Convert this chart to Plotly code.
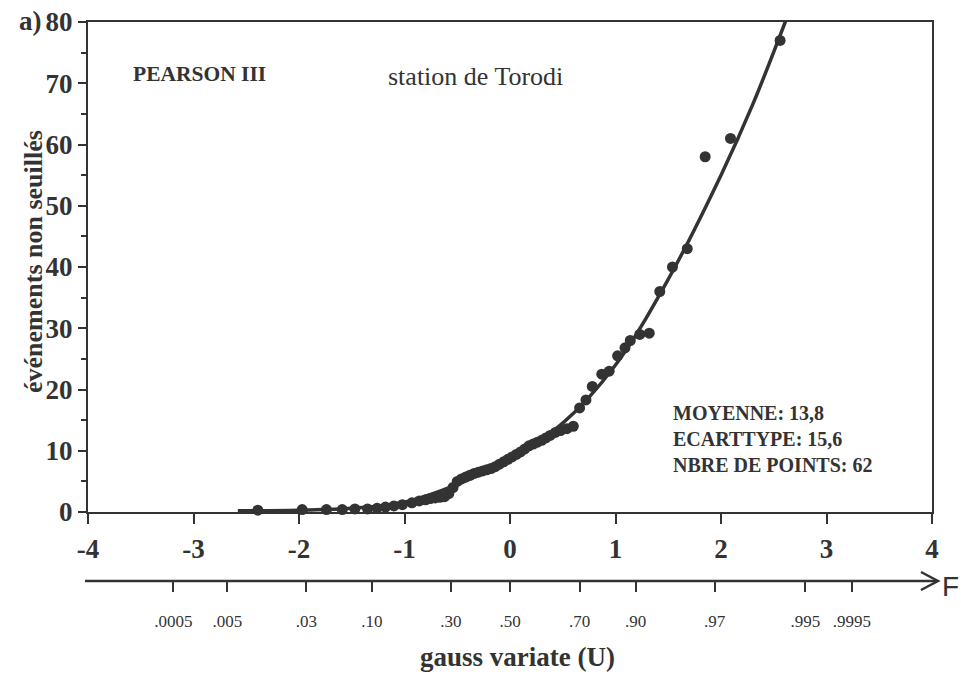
import plotly.graph_objects as go

# ---- data ----
obs_u = [-2.39, -1.97, -1.74, -1.59, -1.47, -1.35, -1.26, -1.18, -1.10, -1.02, -0.93, -0.86,
         -0.80, -0.755, -0.71, -0.665, -0.62, -0.58, -0.54, -0.50, -0.46, -0.42, -0.38, -0.34,
         -0.30, -0.26, -0.22, -0.18, -0.14, -0.10, -0.06, -0.02, 0.02, 0.06, 0.10, 0.14,
         0.18, 0.22, 0.26, 0.30, 0.34, 0.38, 0.43, 0.48, 0.54, 0.60,
         0.66, 0.72, 0.78, 0.87, 0.94, 1.02, 1.09, 1.14, 1.23, 1.32, 1.42, 1.54, 1.68,
         1.85, 2.09, 2.56]
obs_val = [0.3, 0.4, 0.4, 0.4, 0.5, 0.5, 0.6, 0.8, 1.0, 1.2, 1.5, 1.8,
           2.0, 2.2, 2.3, 2.4, 2.5, 3.0, 4.0, 5.0, 5.4, 5.7, 6.0, 6.3,
           6.5, 6.7, 6.9, 7.1, 7.4, 7.8, 8.2, 8.6, 9.0, 9.4, 9.8, 10.3,
           10.8, 11.1, 11.4, 11.7, 12.1, 12.5, 13.0, 13.3, 13.6, 14.0,
           17.0, 18.3, 20.5, 22.5, 23.0, 25.5, 26.8, 28.0, 29.0, 29.2, 36.0, 40.0, 43.0,
           58.0, 61.0, 77.0]

fit_u = [-2.58, -2.0, -1.5, -1.0, -0.5, 0.0, 0.5, 1.0, 1.5, 2.0, 2.3, 2.62]
fit_val = [0.2, 0.3, 0.6, 1.6, 4.5, 8.7, 14.5, 24.0, 38.0, 55.0, 66.5, 80.5]

u_ticks = [-4, -3, -2, -1, 0, 1, 2, 3, 4]
y_ticks = [0, 10, 20, 30, 40, 50, 60, 70, 80]

f_pos = [-3.19, -2.68, -1.93, -1.31, -0.56, 0.0, 0.66, 1.19, 1.94, 2.80, 3.24]
f_labels = [".0005", ".005", ".03", ".10", ".30", ".50", ".70", ".90", ".97", ".995", ".9995"]

stats_lines = ["MOYENNE: 13,8", "ECARTTYPE: 15,6", "NBRE DE POINTS: 62"]

# ---- figure ----
W, H = 961, 677
INK = "#333333"
SERIF = "Liberation Serif"

x0px, x1px = 88, 932
ytop, ybot = 22, 512
xdom = [x0px / W, x1px / W]
ydom = [1 - ybot / H, 1 - ytop / H]

def px(xp):
    return xp / W

def py(yp):
    return 1 - yp / H

fig = go.Figure()
fig.add_trace(go.Scatter(x=fit_u, y=fit_val, mode="lines",
                         line=dict(color=INK, width=3.5, shape="spline"),
                         hoverinfo="skip", showlegend=False))
fig.add_trace(go.Scatter(x=obs_u, y=obs_val, mode="markers",
                         marker=dict(color=INK, size=11),
                         showlegend=False, cliponaxis=False))
# invisible trace to instantiate the probability axis
fig.add_trace(go.Scatter(x=[0], y=[0], xaxis="x2", yaxis="y", mode="markers",
                         marker=dict(opacity=0), hoverinfo="skip", showlegend=False))

fig.update_layout(
    width=W, height=H,
    margin=dict(l=0, r=0, t=0, b=0, autoexpand=False),
    paper_bgcolor="white", plot_bgcolor="white",
    font=dict(family=SERIF, color=INK),
    xaxis=dict(domain=xdom, range=[-4, 4], tickvals=u_ticks,
               ticktext=[str(v) for v in u_ticks], automargin=False,
               showline=True, linecolor=INK, linewidth=2, mirror=True,
               ticks="outside", ticklen=10, tickwidth=2, tickcolor=INK,
               ticklabelstandoff=2,
               tickfont=dict(family=SERIF, size=27, weight="bold", color=INK),
               showgrid=False, zeroline=False),
    xaxis2=dict(domain=xdom, range=[-4, 4], overlaying="x", anchor="free",
                position=py(581), side="bottom", automargin=False,
                tickvals=f_pos, ticktext=f_labels,
                showline=False, ticks="outside", ticklen=10, tickwidth=2,
                tickcolor=INK, ticklabelstandoff=15,
                tickfont=dict(family=SERIF, size=17, color=INK),
                showgrid=False, zeroline=False),
    yaxis=dict(domain=ydom, range=[0, 80], tickvals=y_ticks, automargin=False,
               showline=True, linecolor=INK, linewidth=2, mirror=True,
               ticks="outside", ticklen=8, tickwidth=2, tickcolor=INK,
               ticklabelstandoff=0,
               minor=dict(dtick=5, ticks="outside", ticklen=5, tickwidth=2, tickcolor=INK),
               tickfont=dict(family=SERIF, size=27, weight="bold", color=INK),
               showgrid=False, zeroline=False),
)

# probability axis line with arrow
fig.add_shape(type="line", xref="paper", yref="paper",
              x0=px(85), y0=py(581), x1=px(937), y1=py(581),
              line=dict(color=INK, width=2.5))
fig.add_shape(type="path", xref="paper", yref="paper",
              path=f"M {px(921)} {py(572)} L {px(938)} {py(581)} L {px(921)} {py(590)}",
              line=dict(color=INK, width=2.5))

ann = [
    dict(x=px(950), y=py(586), text="F", font=dict(family="Liberation Sans", size=28, color=INK)),
    dict(x=px(517), y=py(657), text="gauss variate (U)",
         font=dict(family=SERIF, size=27, weight="bold", color=INK)),
    dict(x=px(33), y=py(262), text="événements non seuillés", textangle=-90,
         font=dict(family=SERIF, size=26, weight="bold", color=INK)),
    dict(x=px(30), y=py(21), text="a)",
         font=dict(family=SERIF, size=27, weight="bold", color=INK)),
    dict(x=px(199), y=py(74), text="PEARSON III",
         font=dict(family=SERIF, size=21.5, weight="bold", color=INK)),
    dict(x=px(475), y=py(77), text="station de Torodi",
         font=dict(family=SERIF, size=26, color=INK)),
    dict(x=px(671), y=py(439), text="<br>".join(stats_lines), xanchor="left", align="left",
         font=dict(family=SERIF, size=20, weight="bold", color=INK)),
]
for a in ann:
    a.setdefault("xanchor", "center")
    fig.add_annotation(xref="paper", yref="paper", yanchor="middle",
                       showarrow=False, **a)

fig.write_html("out.html")
